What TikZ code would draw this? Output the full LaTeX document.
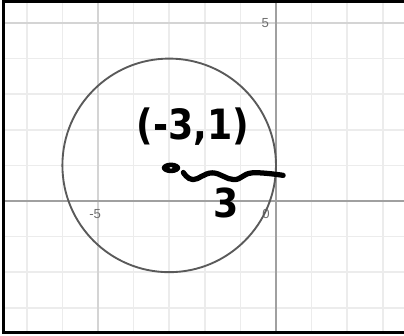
\documentclass[tikz,border=0pt]{standalone}
\usepackage{fontspec}
\setsansfont{Liberation Sans}
\newfontfamily\handfont{DejaVu Sans}
\usetikzlibrary{shapes.geometric}
\definecolor{gridminor}{RGB}{236,236,236}
\definecolor{gridmajor}{RGB}{212,212,212}
\definecolor{axisgrey}{RGB}{160,160,160}
\definecolor{curvegrey}{RGB}{90,90,90}
\definecolor{labelgrey}{RGB}{110,110,110}

\begin{document}
\begin{tikzpicture}[x=1cm, y=1cm,
  minorline/.style={draw=gridminor, line width=1.2pt},
  majorline/.style={draw=gridmajor, line width=1.4pt},
  axisline/.style={draw=axisgrey, line width=1.6pt},
  frameline/.style={draw=black, line width=2.4pt, line join=miter},
  curve/.style={draw=curvegrey, line width=1.5pt},
  ticklabel/.style={font=\sffamily\fontsize{10.5}{10.5}\selectfont, text=labelgrey, inner sep=0pt},
  ink/.style={draw=black, line width=4.2pt, line cap=round, line join=round},
  hand/.style={font=\handfont\bfseries\fontsize{29}{29}\selectfont, text=black, inner sep=0pt},
  dot/.style={ellipse, fill=black, draw=none, minimum width=0.52cm, minimum height=0.3cm, inner sep=0pt},
]
\useasboundingbox (-7.753,-3.792) rectangle (3.596,5.646);
\def\fl{-7.654} % frame left
\def\ft{5.590}  % frame top
\def\fb{-3.694} % frame bottom

% ---- grid ----
\begin{scope}
  \clip (\fl,\fb) rectangle (3.7,\ft);
  \foreach \x in {-7,-6,-4,-3,-2,-1,1,2,3}
    \draw[minorline] (\x,\fb) -- (\x,\ft);
  \foreach \y in {-3,-2,-1,1,2,3,4}
    \draw[minorline] (\fl,\y) -- (3.7,\y);
  \draw[majorline] (-5,\fb) -- (-5,\ft);
  \draw[majorline] (\fl,5) -- (3.7,5);
  \draw[axisline] (0,\fb) -- (0,\ft);
  \draw[axisline] (\fl,0) -- (3.7,0);
\end{scope}

% ---- frame ----
\draw[frameline] (3.7,\ft) -- (\fl,\ft) -- (\fl,\fb) -- (3.7,\fb);

% ---- tick labels ----
\node[ticklabel] (lbltop) at (-0.30,5) {5};
\node[ticklabel] (lblneg) at (-5.08,-0.37) {-5};
\node[ticklabel] (lblzero) at (-0.28,-0.37) {0};

% ---- circle ----
\coordinate (ctr) at (-3,1);
\draw[curve] (ctr) circle[radius=3];

% ---- handwriting ----
\node[hand, yscale=1.15] (ctrtext) at (-2.33,2.08) {(-3,1)};
\node[dot] (pt) at (-2.95,0.93) {};
\fill[white] (pt.center) ellipse[x radius=0.045, y radius=0.022];
\coordinate (wavestart) at ([shift={(0.08,-0.13)}]pt.east);
\coordinate (waveend) at (0.2,0.72);
\draw[ink] plot[smooth, tension=0.7] coordinates
  {(wavestart) (-2.33,0.6) (-1.79,0.79) (-1.18,0.6) (-0.67,0.79) (waveend)};
\node[hand, yscale=1.1] (radtext) at (-1.40,-0.06) {3};

\end{tikzpicture}
\end{document}
